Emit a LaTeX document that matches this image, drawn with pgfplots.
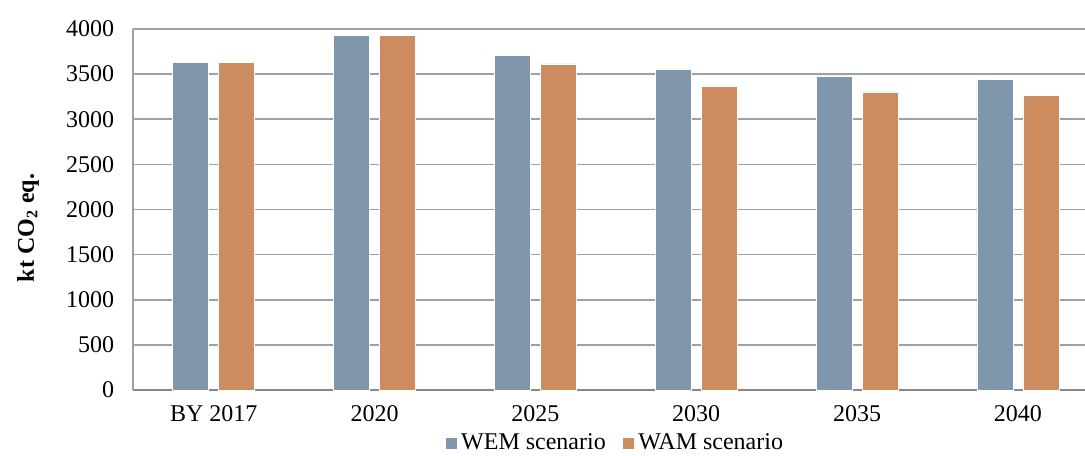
\documentclass[border=0pt]{standalone}
\usepackage{fontspec}
\setmainfont{Liberation Serif}
\usepackage{pgfplots}
\pgfplotsset{compat=1.18}
\definecolor{wem}{RGB}{127,150,173}
\definecolor{wam}{RGB}{204,140,96}
\definecolor{gridc}{RGB}{160,160,160}
\definecolor{axc}{RGB}{136,136,136}
\begin{document}
\begin{tikzpicture}
\path[use as bounding box] (-66.65pt,-32.5pt) rectangle (475.85pt,195pt);
\begin{axis}[
  at={(0pt,0pt)}, anchor=south west,
  scale only axis,
  width=475.85pt, height=180.5pt,
  ybar=5pt, bar width=18pt,
  xmin=-0.5, xmax=5.417,
  ymin=0, ymax=4000,
  ytick distance=500,
  xtick=data,
  xticklabels={BY 2017,2020,2025,2030,2035,2040},
  major tick length=0pt,
  axis x line*=bottom, axis y line*=left,
  x axis line style={draw=axc, line width=1.2pt, -},
  y axis line style={draw=gridc, line width=0.8pt, -},
  ymajorgrids, grid style={draw=gridc, line width=0.8pt},
  /pgf/number format/1000 sep={},
  /pgf/number format/assume math mode=true,
  tick label style={font=\fontsize{12}{14}\selectfont},
  yticklabel style={xshift=-6pt},
  xticklabel style={yshift=-4pt},
  ylabel={\textbf{kt CO\textsubscript{2} eq.}},
  ylabel style={font=\fontsize{12}{14}\selectfont, at={(axis description cs:-0.1106,0.449)}, anchor=center},
  legend style={at={(axis description cs:0.507,-0.147)}, anchor=center, draw=none, fill=none,
    font=\fontsize{12}{14}\selectfont, legend columns=2, column sep=6pt,
    /tikz/every odd column/.style={column sep=0pt}, inner sep=0pt},
  legend image code/.code={\fill[#1] (0pt,-3pt) rectangle (6pt,3pt);},
  legend cell align=left,
]
\addplot[fill=wem, draw=white, line width=0.3pt] coordinates {(0,3631) (1,3929) (2,3708) (3,3550) (4,3481) (5,3441)};
\addplot[fill=wam, draw=white, line width=0.3pt] coordinates {(0,3631) (1,3929) (2,3613) (3,3369) (4,3303) (5,3263)};
\legend{WEM scenario, WAM scenario}
\end{axis}
\end{tikzpicture}
\end{document}
